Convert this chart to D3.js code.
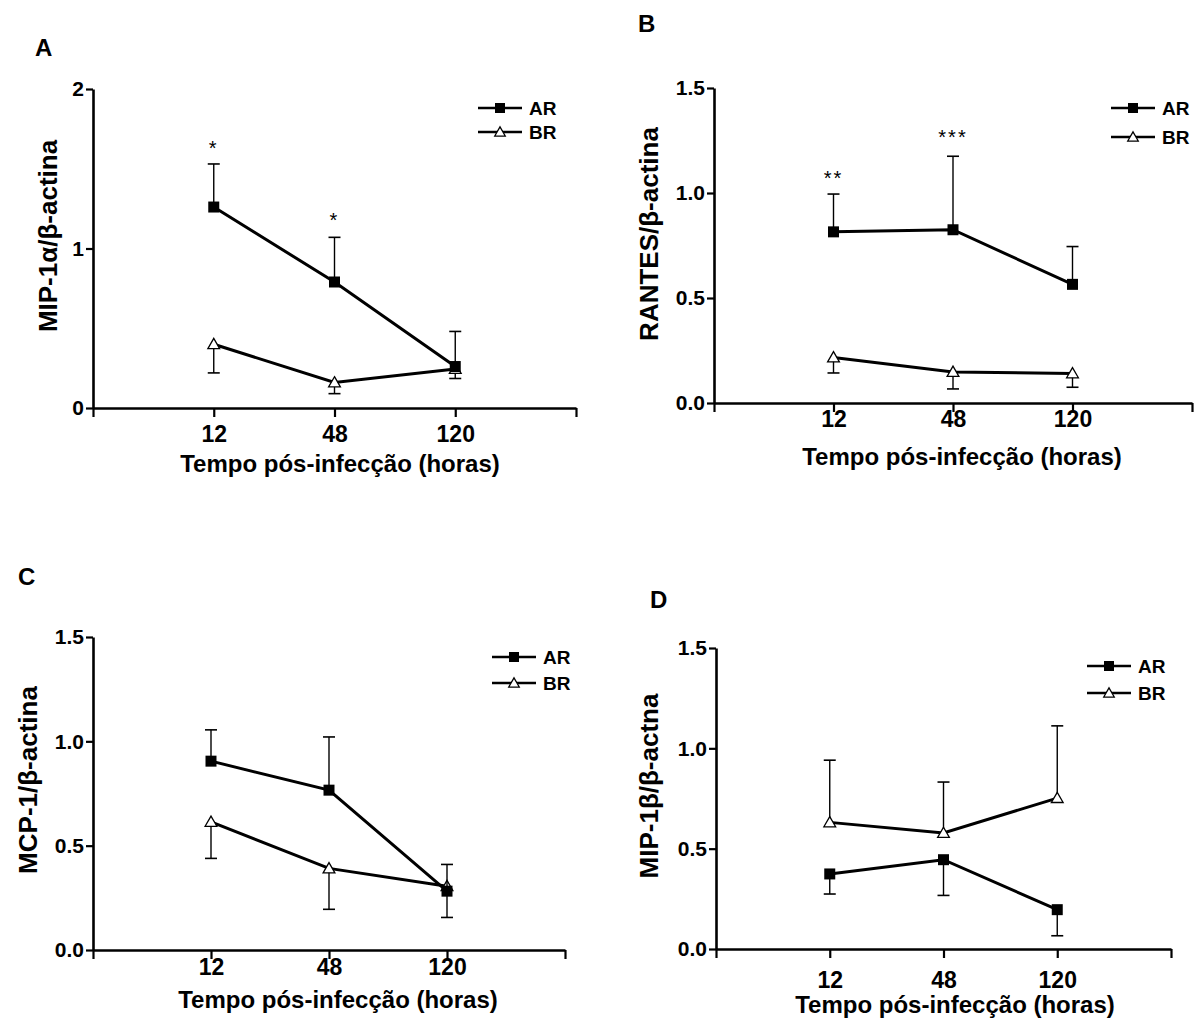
<!DOCTYPE html>
<html>
<head>
<meta charset="utf-8">
<script src="https://cdn.jsdelivr.net/npm/d3@7"></script>
<style>
  body { margin: 0; background: #fff; }
  svg { display: block; }
  .lbl { font-family: "Liberation Sans", Arial, Helvetica, sans-serif; font-weight: bold; }
</style>
</head>
<body>
<svg id="fig" width="1194" height="1021"></svg>
<script>
// time points (hours post infection)
var times = ["12", "48", "120"];

// A: MIP-1alpha
var mip1aAR = [1.26, 0.79, 0.26], mip1aARerr = [0.27, 0.28, 0.22];
var mip1aBR = [0.40, 0.16, 0.245], mip1aBRerr = [0.18, 0.07, 0.06];
var mip1aStars = ["*", "*", ""], mip1aStarY = [1.66, 1.21, 0];
var mip1aTicks = [0, 1, 2];

// B: RANTES
var rantesAR = [0.815, 0.825, 0.565], rantesARerr = [0.18, 0.35, 0.18];
var rantesBR = [0.217, 0.148, 0.141], rantesBRerr = [0.074, 0.081, 0.066];
var rantesStars = ["**", "***", ""], rantesStarY = [1.095, 1.29, 0];

// C: MCP-1
var mcp1AR = [0.905, 0.766, 0.282], mcp1ARerr = [0.15, 0.255, 0.128];
var mcp1BR = [0.614, 0.391, 0.306], mcp1BRerr = [0.175, 0.196, 0.15];

// D: MIP-1beta
var mip1bAR = [0.374, 0.445, 0.196], mip1bARerr = [0.10, 0.178, 0.13];
var mip1bBR = [0.631, 0.578, 0.752], mip1bBRerr = [0.31, 0.254, 0.36];

var halfTicks = [0, 0.5, 1.0, 1.5];

var panels = [
  { letter: "A", lx: 35, ly: 56, x0: 93, x1: 576, yTop: 89, y0: 408, ymax: 2, ticks: mip1aTicks, fmt: d3.format("d"),
    ytitle: "MIP-1α/β-actina", ytx: 57, ytc: 236, xtx: 340, xty: 472, tickY: 442,
    ar: mip1aAR, arErr: mip1aARerr, arDir: 1, br: mip1aBR, brErr: mip1aBRerr, brDir: -1,
    stars: mip1aStars, starY: mip1aStarY, legX: 478, legY: 108, legGap: 24 },
  { letter: "B", lx: 638, ly: 32, x0: 714, x1: 1192, yTop: 88, y0: 403, ymax: 1.5, ticks: halfTicks, fmt: d3.format(".1f"),
    ytitle: "RANTES/β-actina", ytx: 658, ytc: 234, xtx: 962, xty: 465, tickY: 427,
    ar: rantesAR, arErr: rantesARerr, arDir: 1, br: rantesBR, brErr: rantesBRerr, brDir: -1,
    stars: rantesStars, starY: rantesStarY, legX: 1111, legY: 108, legGap: 29 },
  { letter: "C", lx: 18, ly: 585, x0: 93, x1: 565, yTop: 637, y0: 950, ymax: 1.5, ticks: halfTicks, fmt: d3.format(".1f"),
    ytitle: "MCP-1/β-actina", ytx: 37, ytc: 780, xtx: 338, xty: 1008, tickY: 975,
    ar: mcp1AR, arErr: mcp1ARerr, arDir: 1, br: mcp1BR, brErr: mcp1BRerr, brDir: -1,
    stars: null, legX: 492, legY: 657, legGap: 26 },
  { letter: "D", lx: 650, ly: 608, x0: 716, x1: 1171, yTop: 648, y0: 949, ymax: 1.5, ticks: halfTicks, fmt: d3.format(".1f"),
    ytitle: "MIP-1β/β-actna", ytx: 658, ytc: 786, xtx: 955, xty: 1013, tickY: 988,
    ar: mip1bAR, arErr: mip1bARerr, arDir: -1, br: mip1bBR, brErr: mip1bBRerr, brDir: 1,
    stars: null, legX: 1087, legY: 666, legGap: 27 }
];

var svg = d3.select("#fig");
var sym = {
  square: d3.symbol().type(d3.symbolSquare).size(121),
  tri: d3.symbol().type(d3.symbolTriangle).size(60),
  legSquare: d3.symbol().type(d3.symbolSquare).size(100),
  legTri: d3.symbol().type(d3.symbolTriangle).size(48)
};

function drawSeries(g, x, y, vals, errs, dir, kind) {
  // one-sided error bars
  vals.forEach(function(v, i) {
    var yEnd = y(v + dir * errs[i]);
    g.append("line").attr("x1", x(i + 1)).attr("x2", x(i + 1))
      .attr("y1", y(v)).attr("y2", yEnd).attr("stroke", "#000").attr("stroke-width", 1.4);
    g.append("line").attr("x1", x(i + 1) - 6).attr("x2", x(i + 1) + 6)
      .attr("y1", yEnd).attr("y2", yEnd).attr("stroke", "#000").attr("stroke-width", 1.6);
  });
  var line = d3.line().x(function(d, i) { return x(i + 1); }).y(function(d) { return y(d); });
  g.append("path").datum(vals).attr("d", line)
    .attr("fill", "none").attr("stroke", "#000").attr("stroke-width", 3);
  vals.forEach(function(v, i) {
    if (kind == "square") {
      g.append("path").attr("d", sym.square()).attr("transform", "translate(" + x(i + 1) + "," + y(v) + ")")
        .attr("fill", "#000");
    } else {
      g.append("path").attr("d", sym.tri()).attr("transform", "translate(" + x(i + 1) + "," + (y(v) + 1) + ")")
        .attr("fill", "#fff").attr("stroke", "#000").attr("stroke-width", 1.3);
    }
  });
}

panels.forEach(function(p) {
  var g = svg.append("g");
  var x = d3.scaleLinear().domain([0, 4]).range([p.x0, p.x1]);
  var y = d3.scaleLinear().domain([0, p.ymax]).range([p.y0, p.yTop]);

  g.append("text").attr("class", "lbl").attr("x", p.lx).attr("y", p.ly)
    .attr("font-size", 24).text(p.letter);

  // y axis
  var ya = g.append("g").attr("transform", "translate(" + p.x0 + ",0)")
    .call(d3.axisLeft(y).tickValues(p.ticks).tickFormat(p.fmt).tickSize(7).tickSizeOuter(0).tickPadding(2));
  ya.select(".domain").attr("stroke-width", 2.6);
  ya.selectAll(".tick line").attr("stroke-width", 2.2);
  ya.selectAll(".tick text").attr("class", "lbl").attr("font-size", 21);

  // x axis
  var xa = g.append("g").attr("transform", "translate(0," + p.y0 + ")")
    .call(d3.axisBottom(x).tickValues([0, 1, 2, 3, 4])
      .tickFormat(function(d) { return times[d - 1] || ""; })
      .tickSize(9).tickSizeOuter(0));
  xa.select(".domain").attr("stroke-width", 2.6);
  xa.selectAll(".tick line").attr("stroke-width", 2.2);
  xa.selectAll(".tick text").attr("class", "lbl").attr("font-size", 23)
    .attr("dy", null).attr("y", p.tickY - p.y0);

  // axis titles
  g.append("text").attr("class", "lbl").attr("font-size", 24).attr("text-anchor", "middle")
    .attr("x", p.xtx).attr("y", p.xty).text("Tempo pós-infecção (horas)");
  g.append("text").attr("class", "lbl").attr("font-size", 26).attr("text-anchor", "middle")
    .attr("transform", "translate(" + p.ytx + "," + p.ytc + ") rotate(-90)")
    .text(p.ytitle);

  drawSeries(g, x, y, p.br, p.brErr, p.brDir, "tri");
  drawSeries(g, x, y, p.ar, p.arErr, p.arDir, "square");

  if (p.stars) {
    p.stars.forEach(function(s, i) {
      if (!s) return;
      g.append("text").attr("font-family", "Liberation Sans, Arial, sans-serif").attr("font-size", 20)
        .attr("text-anchor", "middle").attr("x", x(i + 1)).attr("y", y(p.starY[i]) + 12)
        .attr("letter-spacing", 2).text(s);
    });
  }

  // legend
  [["AR", "square"], ["BR", "tri"]].forEach(function(l, k) {
    var ly = p.legY + k * p.legGap;
    g.append("line").attr("x1", p.legX).attr("x2", p.legX + 44).attr("y1", ly).attr("y2", ly)
      .attr("stroke", "#000").attr("stroke-width", 2.6);
    if (l[1] == "square") {
      g.append("path").attr("d", sym.legSquare()).attr("transform", "translate(" + (p.legX + 22) + "," + ly + ")");
    } else {
      g.append("path").attr("d", sym.legTri()).attr("transform", "translate(" + (p.legX + 22) + "," + (ly + 1) + ")")
        .attr("fill", "#fff").attr("stroke", "#000").attr("stroke-width", 1.3);
    }
    g.append("text").attr("class", "lbl").attr("font-size", 19).attr("x", p.legX + 51).attr("y", ly + 7).text(l[0]);
  });
});
</script>
</body>
</html>
